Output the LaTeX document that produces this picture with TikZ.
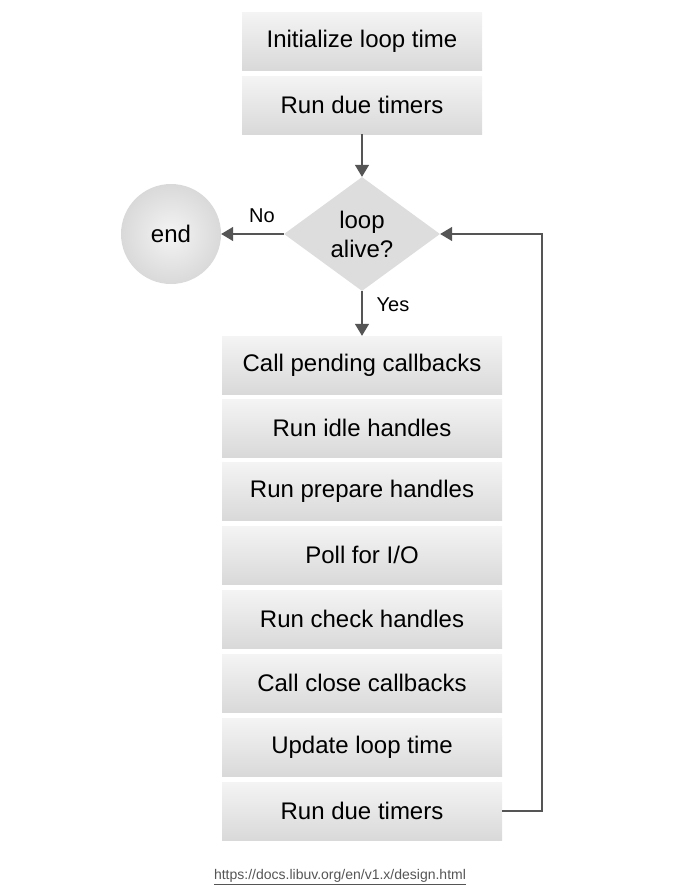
\documentclass[tikz,border=0pt]{standalone}
\usepackage{fontspec}
\setmainfont{Liberation Sans}
\usetikzlibrary{arrows.meta,shapes.geometric}
\definecolor{linegray}{HTML}{555555}
\definecolor{boxtop}{HTML}{F4F4F4}
\definecolor{boxbot}{HTML}{D9D9D9}
\tikzset{
  stepbox/.style={rectangle, top color=boxtop, bottom color=boxbot, draw=none,
    minimum width=#1, minimum height=58pt, font=\fontsize{24}{28}\selectfont},
  flow/.style={draw=linegray, line width=1.6pt, -{Triangle[length=12pt,width=14pt]}},
  edgelabel/.style={font=\fontsize{20}{23}\selectfont}
}
\begin{document}
\begin{tikzpicture}[x=1pt,y=-1pt]
\useasboundingbox (0,0) rectangle (680,886);

\node[stepbox=240pt] (init) at (362,41) {Initialize loop time};
\node[stepbox=240pt] (timers1) at (362,105) {Run due timers};

\node[diamond, fill=boxbot!90, minimum width=156pt, minimum height=114pt, aspect=1.37,
  inner sep=0pt, align=center, font=\fontsize{24}{29}\selectfont] (alive) at (362,234) {loop\\alive?};
\node[circle, inner color=boxtop, outer color=boxbot, minimum size=100pt,
  font=\fontsize{24}{28}\selectfont] (end) at (171,234) {end};

\node[stepbox=280pt] (pending) at (362,365) {Call pending callbacks};
\node[stepbox=280pt] (idle) at (362,428) {Run idle handles};
\node[stepbox=280pt] (prepare) at (362,491) {Run prepare handles};
\node[stepbox=280pt] (poll) at (362,555) {Poll for I/O};
\node[stepbox=280pt] (check) at (362,619) {Run check handles};
\node[stepbox=280pt] (close) at (362,683) {Call close callbacks};
\node[stepbox=280pt] (update) at (362,747) {Update loop time};
\node[stepbox=280pt] (timers2) at (362,811) {Run due timers};

\draw[flow] (timers1) -- (alive);
\draw[flow] (alive) -- (end);
\draw[flow] (alive) -- (pending);
\draw[flow] (timers2.east) -- ++(40,0) |- (alive.east);

\node[edgelabel] (no) at (262,216) {No};
\node[edgelabel] (yes) at (393,305) {Yes};

\node[font=\fontsize{14}{16}\selectfont, text=linegray] (url) at (340,877)
  {\underline{https://docs.libuv.org/en/v1.x/design.html}};
\end{tikzpicture}
\end{document}
